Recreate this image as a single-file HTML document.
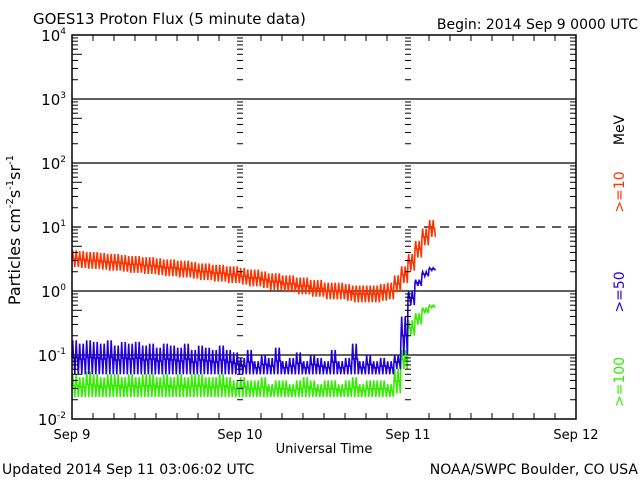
<!DOCTYPE html>
<html><head><meta charset="utf-8"><style>
body{margin:0;background:#fff;}
svg{display:block;font-family:"DejaVu Sans","Liberation Sans",sans-serif;}
</style></head><body>
<svg id="chart" width="640" height="480" viewBox="0 0 640 480" xmlns="http://www.w3.org/2000/svg">
<rect width="640" height="480" fill="#fff"/>
<text x="33" y="24" font-size="15">GOES13 Proton Flux (5 minute data)</text>
<text x="638" y="29" font-size="14" text-anchor="end">Begin: 2014 Sep 9 0000 UTC</text>
<g id="grid"></g>
<g id="series"></g>
<rect x="72" y="35" width="504" height="384" fill="none" stroke="#000" stroke-width="1.5"/>
<g id="axes"></g>
<text x="324" y="453" font-size="13" text-anchor="middle">Universal Time</text>
<text transform="translate(20,230) rotate(-90)" font-size="16" text-anchor="middle">Particles cm<tspan font-size="10" dy="-7">-2</tspan><tspan dy="7">s</tspan><tspan font-size="10" dy="-7">-1</tspan><tspan dy="7">sr</tspan><tspan font-size="10" dy="-7">-1</tspan></text>
<text transform="translate(624,130) rotate(-90)" font-size="14" text-anchor="middle">MeV</text>
<text transform="translate(624,192) rotate(-90)" font-size="14" fill="#ff3300" text-anchor="middle">&gt;=10</text>
<text transform="translate(624,292) rotate(-90)" font-size="14" fill="#2200dd" text-anchor="middle">&gt;=50</text>
<text transform="translate(624,382) rotate(-90)" font-size="14" fill="#33ee00" text-anchor="middle">&gt;=100</text>
<text x="2" y="474" font-size="14">Updated 2014 Sep 11 03:06:02 UTC</text>
<text x="638" y="474" font-size="14" text-anchor="end">NOAA/SWPC Boulder, CO USA</text>
</svg>
<script>
const dayLabels=["Sep 9","Sep 10","Sep 11","Sep 12"];
const decadeExps=[-2,-1,0,1,2,3,4];
const redMid=[3.2,3.1,3.0,3.0,2.9,2.8,2.8,2.7,2.6,2.6,2.5,2.5,2.4,2.3,2.3,2.2,2.2,2.1,2.0,2.0,1.9,1.9,1.8,1.8,1.7,1.6,1.6,1.5,1.4,1.4,1.3,1.3,1.2,1.2,1.1,1.1,1.0,1.0,1.0,0.95,0.9,0.9,0.9,0.9,0.95,1.0,1.3,1.8,2.8,4.5,7.0,9.5];
const blueLo=[0.05,0.05,0.05,0.05,0.05,0.05,0.05,0.05,0.05,0.05,0.05,0.05,0.05,0.05,0.05,0.05,0.05,0.05,0.05,0.05,0.05,0.05,0.05,0.05,0.05,0.05,0.05,0.05,0.05,0.05,0.05,0.05,0.05,0.05,0.05,0.05,0.05,0.05,0.05,0.05,0.05,0.05,0.05,0.05,0.05,0.05,0.06,0.1,0.6,1.2,1.7,2.1];
const blueHi=[0.17,0.15,0.17,0.16,0.15,0.17,0.14,0.16,0.15,0.16,0.14,0.15,0.13,0.15,0.14,0.13,0.15,0.12,0.14,0.13,0.12,0.14,0.12,0.11,0.09,0.12,0.08,0.1,0.09,0.13,0.08,0.09,0.11,0.08,0.1,0.09,0.08,0.12,0.08,0.09,0.15,0.08,0.1,0.08,0.09,0.08,0.1,0.4,1.0,1.5,2.0,2.3];
const greenLo=[0.022,0.022,0.022,0.022,0.022,0.022,0.022,0.022,0.022,0.022,0.022,0.022,0.022,0.022,0.022,0.022,0.022,0.022,0.022,0.022,0.022,0.022,0.022,0.022,0.022,0.022,0.022,0.022,0.022,0.022,0.022,0.022,0.022,0.022,0.022,0.022,0.022,0.022,0.022,0.022,0.022,0.022,0.022,0.022,0.022,0.022,0.025,0.06,0.2,0.3,0.45,0.55];
const greenHi=[0.05,0.045,0.055,0.05,0.045,0.05,0.05,0.045,0.05,0.045,0.05,0.05,0.045,0.05,0.045,0.05,0.045,0.05,0.05,0.045,0.045,0.05,0.045,0.04,0.045,0.04,0.04,0.045,0.035,0.04,0.04,0.035,0.04,0.045,0.04,0.035,0.04,0.04,0.035,0.04,0.045,0.035,0.04,0.04,0.04,0.035,0.06,0.12,0.35,0.45,0.55,0.6];
const NS="http://www.w3.org/2000/svg";
const X0=72,X1=576,Y0=35,Y1=419;
function xs(h){return X0+(X1-X0)*h/72;}
function ys(v){return Y1-(Math.log10(v)+2)*(Y1-Y0)/6;}
function mk(tag,attrs,parent){const e=document.createElementNS(NS,tag);for(const k in attrs)e.setAttribute(k,attrs[k]);parent.appendChild(e);return e;}
const grid=document.getElementById('grid'),axes=document.getElementById('axes'),ser=document.getElementById('series');
decadeExps.forEach(p=>{
  const y=ys(Math.pow(10,p));
  if(p>-2&&p<4){const l=mk('line',{x1:X0,x2:X1,y1:y,y2:y,stroke:'#000','stroke-width':1.3},grid);
    if(p===1)l.setAttribute('stroke-dasharray','9,7');
    
    }
  const t=mk('text',{x:X0-6,y:y+6,'font-size':15,'text-anchor':'end'},axes);
  
  
  t.textContent='10';
  const s=mk('tspan',{'font-size':9,dy:-7},t);s.textContent=String(p);
  if(p<4){for(let m=2;m<=9;m++){const yy=ys(m*Math.pow(10,p));
    mk('line',{x1:X0,x2:X0+(m===5?10:6),y1:yy,y2:yy,stroke:'#000'},axes);
    [1,2].forEach(d=>{const xd=xs(d*24);mk('line',{x1:xd-3,x2:xd+3,y1:yy,y2:yy,stroke:'#000'},axes);});
    mk('line',{x1:X1,x2:X1-6,y1:yy,y2:yy,stroke:'#000'},axes);}}
});
for(let h=0;h<=72;h+=3){const x=xs(h);const len=(h%24===0)?0:6;
  if(len){mk('line',{x1:x,x2:x,y1:Y1,y2:Y1-len,stroke:'#000'},axes);mk('line',{x1:x,x2:x,y1:Y0,y2:Y0+len,stroke:'#000'},axes);}}
dayLabels.forEach((d,i)=>{const t=mk('text',{x:xs(i*24),y:439,'font-size':13,'text-anchor':'middle'},axes);
  
  
  t.textContent=d;});
function band(lo,hi,color,name){
  let pts=[];
  for(let h=0;h<lo.length;h++){
    const base=Math.sqrt(lo[h]*hi[h]);
    const seq=[base,hi[h],base,base,lo[h],base,hi[h],base,base,lo[h]];
    seq.forEach((v,k)=>pts.push(xs(h+k/10).toFixed(1)+','+ys(v).toFixed(1)));
  }
  const p=mk('polyline',{points:pts.join(' '),fill:'none',stroke:color,'stroke-width':1.6},ser);
  
  
}
band(greenLo,greenHi,'#33ee00','series-ge100');
band(blueLo,blueHi,'#2200dd','series-ge50');
band(redMid.map(v=>v/1.35),redMid.map(v=>v*1.35),'#ff3300','series-ge10');
</script>
</body></html>
